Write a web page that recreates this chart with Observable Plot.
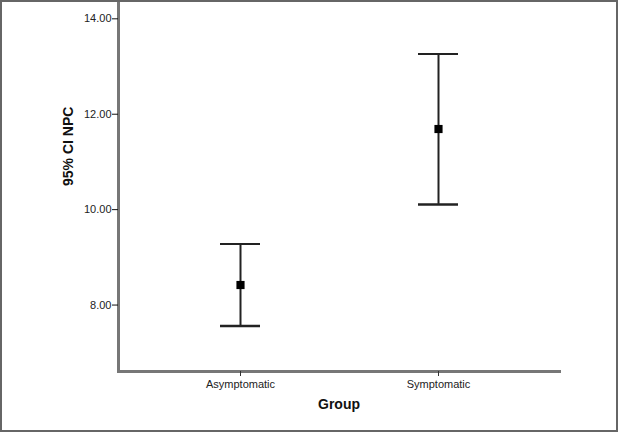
<!DOCTYPE html>
<html>
<head>
<meta charset="utf-8">
<script src="https://cdn.jsdelivr.net/npm/d3@7"></script>
<script src="https://cdn.jsdelivr.net/npm/@observablehq/plot@0.6"></script>
<style>
  html, body { margin: 0; padding: 0; background: #fff; }
  #chart svg { display: block; outline: 2px solid #666; outline-offset: -2px; }
</style>
</head>
<body>
<div id="chart"></div>
<script>
const groups = ["Asymptomatic", "Symptomatic"];
const means = [8.42, 11.69];
const lower = [7.56, 10.11];
const upper = [9.28, 13.26];
const yTicks = [8, 10, 12, 14];

const data = groups.map((g, i) => ({group: g, mean: means[i], lo: lower[i], hi: upper[i]}));

const font = "Arial, 'Liberation Sans', sans-serif";

const chart = Plot.plot({
  width: 618,
  height: 432,
  marginLeft: 118,
  marginRight: 59,
  marginTop: 0,
  marginBottom: 61,
  style: {fontFamily: font, fontSize: "11px", color: "#222", background: "#fff"},
  x: {type: "band", domain: groups, paddingInner: 0.798, paddingOuter: 0.5126, label: null},
  y: {domain: [6.607, 14.384], label: null},
  marks: [
    Plot.frame({anchor: "left", stroke: "#777", strokeWidth: 3}),
    Plot.frame({anchor: "bottom", stroke: "#777", strokeWidth: 3}),
    Plot.axisY({ticks: yTicks, tickFormat: d3.format(".2f"), tickSize: 6, tickPadding: 1, stroke: "#111", fill: "#222", label: null}),
    Plot.axisX({tickSize: 5, tickPadding: 4, stroke: "#333", fill: "#222", label: null}),
    Plot.ruleX(data, {x: "group", y1: "lo", y2: "hi", stroke: "#222", strokeWidth: 2}),
    Plot.tickY(data, {x: "group", y: "hi", stroke: "#222", strokeWidth: 2}),
    Plot.tickY(data, {x: "group", y: "lo", stroke: "#222", strokeWidth: 2.5}),
    Plot.dot(data, {x: "group", y: "mean", symbol: "square", r: 4.6, fill: "#000", stroke: "none"}),
    Plot.text(["Group"], {frameAnchor: "bottom", dy: 37, fontWeight: "bold", fontSize: 14, fill: "#111"}),
    Plot.text(["95% CI NPC"], {frameAnchor: "left", dx: -50, rotate: -90, fontWeight: "bold", fontSize: 14, fill: "#111"})
  ]
});
document.getElementById("chart").appendChild(chart);
</script>
</body>
</html>
